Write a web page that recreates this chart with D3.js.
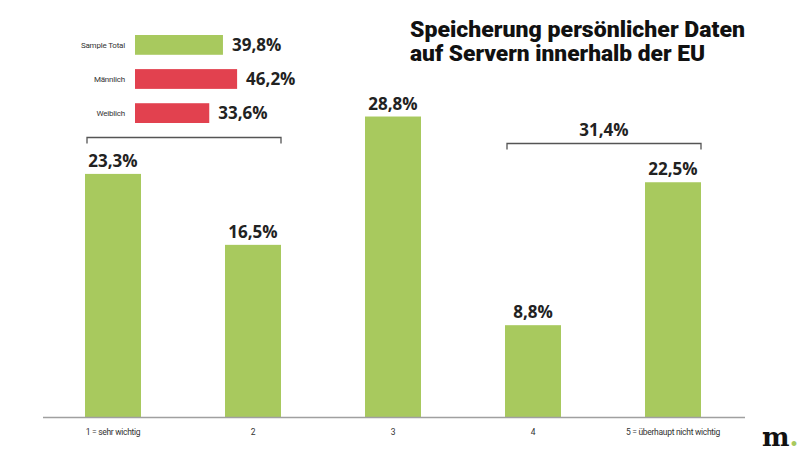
<!DOCTYPE html>
<html>
<head>
<meta charset="utf-8">
<script src="https://cdn.jsdelivr.net/npm/d3@7"></script>
<style>
  body { margin: 0; background: #fff; }
  svg { display: block; }
</style>
</head>
<body>
<div id="chart"></div>
<script>
var categories = ["1 = sehr wichtig", "2", "3", "4", "5 = überhaupt nicht wichtig"];
var values = [23.3, 16.5, 28.8, 8.8, 22.5];
var groupNames = ["Sample Total", "Männlich", "Weiblich"];
var groupValues = [39.8, 46.2, 33.6];
var groupColors = ["#a8c95e", "#e2414f", "#e2414f"];
var bracketLeft = { from: 0, to: 1, label: null };
var bracketRight = { from: 3, to: 4, label: "31,4%" };
var titleLines = ["Speicherung persönlicher Daten", "auf Servern innerhalb der EU"];

var width = 800, height = 452;
var green = "#a8c95e";
var fmt = function(v) { return v.toFixed(1).replace(".", ",") + "%"; };

var svg = d3.select("#chart")
    .append("svg")
    .attr("width", width)
    .attr("height", height);

// main bars
var x = d3.scaleBand()
    .domain(categories)
    .range([43, 743])
    .paddingInner(0.6)
    .paddingOuter(0.3);

var y = d3.scaleLinear()
    .domain([0, 30])
    .range([417, 104]);

svg.selectAll(".bar")
    .data(values)
    .enter()
    .append("rect")
    .attr("class", "bar")
    .attr("x", function(d, i) { return x(categories[i]); })
    .attr("y", function(d) { return y(d); })
    .attr("width", x.bandwidth())
    .attr("height", function(d) { return y(0) - y(d); })
    .style("fill", green);

svg.selectAll(".val")
    .data(values)
    .enter()
    .append("text")
    .attr("class", "val")
    .attr("x", function(d, i) { return x(categories[i]) + x.bandwidth() / 2; })
    .attr("y", function(d) { return y(d) - 7; })
    .attr("text-anchor", "middle")
    .attr("font-family", "Open Sans, sans-serif")
    .attr("font-weight", "bold")
    .attr("font-size", 17)
    .attr("fill", "#222")
    .text(fmt);

// baseline + category labels
svg.append("line")
    .attr("x1", 43).attr("x2", 745)
    .attr("y1", y(0) + 0.5).attr("y2", y(0) + 0.5)
    .attr("stroke", "#a0a0a0")
    .attr("stroke-width", 1.5);

var xAxis = svg.append("g")
    .attr("transform", "translate(0," + y(0) + ")")
    .call(d3.axisBottom(x).tickSize(0).tickPadding(12));
xAxis.select(".domain").remove();
xAxis.selectAll(".tick text")
    .attr("font-family", "Roboto, sans-serif")
    .attr("font-size", 8.5)
    .attr("letter-spacing", -0.3)
    .attr("fill", "#333");

// brackets
function bracket(b, yy, label) {
    var x0 = x(categories[b.from]) + 2;
    var x1 = x(categories[b.to]) + x.bandwidth();
    svg.append("path")
        .attr("d", "M" + x0 + "," + (yy + 6) + "V" + yy + "H" + x1 + "V" + (yy + 6))
        .attr("fill", "none")
        .attr("stroke", "#555")
        .attr("stroke-width", 1.3);
    if (label) {
        svg.append("text")
            .attr("x", (x0 + x1) / 2)
            .attr("y", yy - 8)
            .attr("text-anchor", "middle")
            .attr("font-family", "Open Sans, sans-serif")
            .attr("font-weight", "bold")
            .attr("font-size", 17)
            .attr("fill", "#222")
            .text(label);
    }
}
bracket(bracketLeft, 137.5, bracketLeft.label);
bracket(bracketRight, 143.5, bracketRight.label);

// small group bars
var gx = d3.scaleLinear().domain([0, 10]).range([135, 157.1]);
var gy = d3.scaleBand()
    .domain(groupNames)
    .range([35, 123])
    .paddingInner(0.42);

svg.selectAll(".gbar")
    .data(groupValues)
    .enter()
    .append("rect")
    .attr("class", "gbar")
    .attr("x", gx(0))
    .attr("y", function(d, i) { return gy(groupNames[i]); })
    .attr("width", function(d) { return gx(d) - gx(0); })
    .attr("height", gy.bandwidth())
    .style("fill", function(d, i) { return groupColors[i]; });

svg.selectAll(".gname")
    .data(groupNames)
    .enter()
    .append("text")
    .attr("class", "gname")
    .attr("x", 125)
    .attr("y", function(d) { return gy(d) + gy.bandwidth() / 2 + 3; })
    .attr("text-anchor", "end")
    .attr("font-family", "Roboto, sans-serif")
    .attr("font-size", 8)
    .attr("letter-spacing", -0.2)
    .attr("fill", "#333")
    .text(function(d) { return d; });

svg.selectAll(".gval")
    .data(groupValues)
    .enter()
    .append("text")
    .attr("class", "gval")
    .attr("x", function(d) { return gx(d) + 9; })
    .attr("y", function(d, i) { return gy(groupNames[i]) + gy.bandwidth() / 2 + 6; })
    .attr("font-family", "Open Sans, sans-serif")
    .attr("font-weight", "bold")
    .attr("font-size", 17)
    .attr("fill", "#222")
    .text(fmt);

// title, squeezed to look condensed
var titleWidths = [335, 295];
svg.selectAll(".title")
    .data(titleLines)
    .enter()
    .append("text")
    .attr("class", "title")
    .attr("x", 410)
    .attr("y", function(d, i) { return 37 + i * 24; })
    .attr("textLength", function(d, i) { return titleWidths[i]; })
    .attr("lengthAdjust", "spacingAndGlyphs")
    .attr("font-family", "Roboto, sans-serif")
    .attr("font-weight", "900")
    .attr("font-size", 22.5)
    .attr("fill", "#111")
    .text(function(d) { return d; });

// logo
var logo = svg.append("text")
    .attr("x", 762).attr("y", 446)
    .attr("font-family", "DejaVu Serif, serif")
    .attr("font-weight", "bold")
    .attr("font-size", 26)
    .attr("fill", "#111");
logo.append("tspan").text("m");
logo.append("tspan").attr("fill", green).text(".");
</script>
</body>
</html>
